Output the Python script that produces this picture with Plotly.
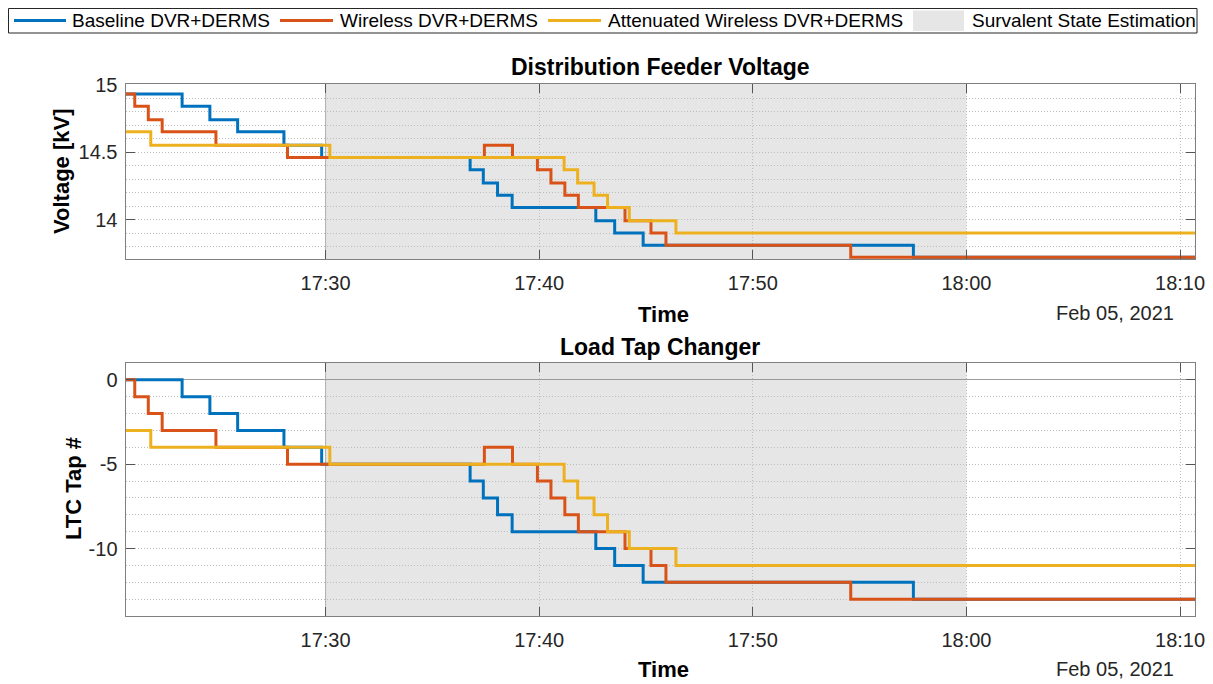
import plotly.graph_objects as go

# The page body has an 8 px margin, so the figure is drawn 8 px smaller and all
# layout positions below are given in screen pixels and shifted by OFF.
OFF = 8
W, H = 1213 - OFF, 684 - OFF
DAY = "2021-02-05 "

# ---------------- data ----------------
blue_t = ["17:20:00", "17:23:17", "17:24:35", "17:25:53", "17:28:03", "17:29:49",
          "17:36:46", "17:37:23", "17:38:03", "17:38:44", "17:42:39", "17:43:32",
          "17:44:52", "17:57:31", "18:12:00"]
blue_tap = [0, -1, -2, -3, -4, -5, -6, -7, -8, -9, -10, -11, -12, -13, -13]
blue_kv = [14.93, 14.84, 14.74, 14.65, 14.55, 14.46, 14.37, 14.27, 14.18, 14.09,
           13.99, 13.90, 13.81, 13.72, 13.72]

orange_t = ["17:20:00", "17:21:04", "17:21:42", "17:22:21", "17:24:52", "17:28:13",
            "17:37:26", "17:38:45", "17:39:55", "17:40:33", "17:41:12", "17:41:50",
            "17:44:01", "17:45:14", "17:45:56", "17:54:35", "18:12:00"]
orange_tap = [0, -1, -2, -3, -4, -5, -4, -5, -6, -7, -8, -9, -10, -11, -12, -13, -13]
orange_kv = [14.93, 14.84, 14.74, 14.65, 14.55, 14.46, 14.55, 14.46, 14.37, 14.27,
             14.18, 14.09, 13.99, 13.90, 13.81, 13.72, 13.72]

yellow_t = ["17:20:00", "17:21:49", "17:30:12", "17:41:10", "17:41:48", "17:42:34",
            "17:43:12", "17:44:13", "17:46:24", "18:12:00"]
yellow_tap = [-3, -4, -5, -6, -7, -8, -9, -10, -11, -11]
yellow_kv = [14.65, 14.55, 14.46, 14.37, 14.27, 14.18, 14.09, 13.99, 13.90, 13.90]

series_names = ["Baseline DVR+DERMS", "Wireless DVR+DERMS", "Attenuated Wireless DVR+DERMS"]
shade_name = "Survalent State Estimation"
shade_start, shade_end = "17:30:00", "18:00:00"

x_tick_times = ["17:30", "17:40", "17:50", "18:00", "18:10"]
x_range = ["17:20:38", "18:10:42"]
date_label = "Feb 05, 2021"

colors = ["#0072BD", "#D95319", "#EDB120"]
shade_color = "#e6e6e6"


def px(x):
    return (x - OFF) / W


def py(y):
    return 1 - (y - OFF) / H


# ---------------- figure ----------------
fig = go.Figure()

series = [(blue_t, blue_kv, blue_tap), (orange_t, orange_kv, orange_tap),
          (yellow_t, yellow_kv, yellow_tap)]
for (t, kv, tap), name, c in zip(series, series_names, colors):
    xs = [DAY + s for s in t]
    fig.add_trace(go.Scatter(x=xs, y=kv, mode="lines", line=dict(color=c, width=3, shape="hv"),
                             name=name, showlegend=False, xaxis="x", yaxis="y"))
    fig.add_trace(go.Scatter(x=xs, y=tap, mode="lines", line=dict(color=c, width=3, shape="hv"),
                             name=name, showlegend=False, xaxis="x2", yaxis="y2"))

FONT = "Liberation Sans, Arial, sans-serif"
GRID = "#bdbdbd"
DASH = "1px,2px"
x_dom = [px(125.5), px(1195)]
top_dom = [py(259.3), py(84)]
bot_dom = [py(616), py(363)]

common = dict(showline=True, linecolor="#808080", linewidth=1, mirror="ticks",
              ticks="inside", ticklen=9, tickcolor="#555555", tickwidth=1,
              showgrid=True, gridcolor=GRID, griddash=DASH, gridwidth=1,
              tickfont=dict(family=FONT, size=20, color="#262626"), zeroline=False)

xcommon = dict(common, type="date", range=[DAY + x_range[0], DAY + x_range[1]],
               tickvals=[DAY + s for s in x_tick_times], ticktext=x_tick_times,
               domain=x_dom, ticklabelstandoff=6)

fig.update_layout(
    width=W, height=H,
    margin=dict(l=0, r=0, t=0, b=0, autoexpand=False),
    paper_bgcolor="white", plot_bgcolor="white",
    showlegend=False,
    xaxis=dict(xcommon, anchor="y"),
    xaxis2=dict(xcommon, anchor="y2"),
    yaxis=dict(common, domain=top_dom, anchor="x", range=[13.705, 15.005],
               tickvals=[14, 14.5, 15], ticktext=["14", "14.5", "15"], ticklabelstandoff=3,
               minor=dict(dtick=0.1, tick0=14, showgrid=True, gridcolor=GRID,
                          griddash=DASH, gridwidth=1, ticks="")),
    yaxis2=dict(common, domain=bot_dom, anchor="x2", range=[-14, 1],
                tickvals=[-10, -5, 0], ticktext=["-10", "-5", "0"], ticklabelstandoff=3,
                zeroline=True, zerolinecolor="#9a9a9a", zerolinewidth=1,
                minor=dict(dtick=1, tick0=0, showgrid=True, gridcolor=GRID,
                           griddash=DASH, gridwidth=1, ticks="")),
)

# shaded state-estimation window and its left edge
for xr, yr in (("x", "y domain"), ("x2", "y2 domain")):
    fig.add_shape(type="rect", xref=xr, yref=yr, x0=DAY + shade_start, x1=DAY + shade_end,
                  y0=0, y1=1, fillcolor=shade_color, line=dict(width=0), layer="below")
    fig.add_shape(type="line", xref=xr, yref=yr, x0=DAY + shade_start, x1=DAY + shade_start,
                  y0=0, y1=1, line=dict(color="#a8a8a8", width=1), layer="below")

# ---------------- legend (drawn in screen pixels) ----------------
fig.add_shape(type="rect", xref="paper", yref="paper", x0=px(8.5), x1=px(1197),
              y0=py(33), y1=py(8.5), line=dict(color="#262626", width=1), fillcolor="white")
leg_lines = [(14, 66), (280, 333), (548, 601)]
leg_text_x = [70, 338, 606]
for (a, b), c, tx, name in zip(leg_lines, colors, leg_text_x, series_names):
    fig.add_shape(type="line", xref="paper", yref="paper", x0=px(a), x1=px(b),
                  y0=py(20.5), y1=py(20.5), line=dict(color=c, width=3))
    fig.add_annotation(x=px(tx), y=py(20.5), xref="paper", yref="paper", text=name,
                       showarrow=False, xanchor="left", yanchor="middle",
                       font=dict(family=FONT, size=19, color="#000000"))
fig.add_shape(type="rect", xref="paper", yref="paper", x0=px(913), x1=px(964),
              y0=py(31), y1=py(10.5), fillcolor=shade_color, line=dict(width=0))
fig.add_annotation(x=px(970), y=py(20.5), xref="paper", yref="paper", text=shade_name,
                   showarrow=False, xanchor="left", yanchor="middle",
                   font=dict(family=FONT, size=19, color="#000000"))


# ---------------- titles and labels ----------------
def label(x, y, text, size=22, bold=True, angle=0, color="#000000"):
    fig.add_annotation(x=px(x), y=py(y), xref="paper", yref="paper",
                       text=f"<b>{text}</b>" if bold else text, showarrow=False,
                       xanchor="center", yanchor="middle", textangle=angle,
                       font=dict(family=FONT, size=size, color=color))


label(660, 67, "Distribution Feeder Voltage", size=23)
label(660, 347, "Load Tap Changer", size=23)
label(663, 314, "Time")
label(663, 669, "Time")
label(1115, 313, date_label, size=20, bold=False, color="#262626")
label(1115, 669, date_label, size=20, bold=False, color="#262626")
label(61, 171, "Voltage [kV]", angle=-90)
label(73, 489, "LTC Tap #", angle=-90)

fig.write_html("out.html")
